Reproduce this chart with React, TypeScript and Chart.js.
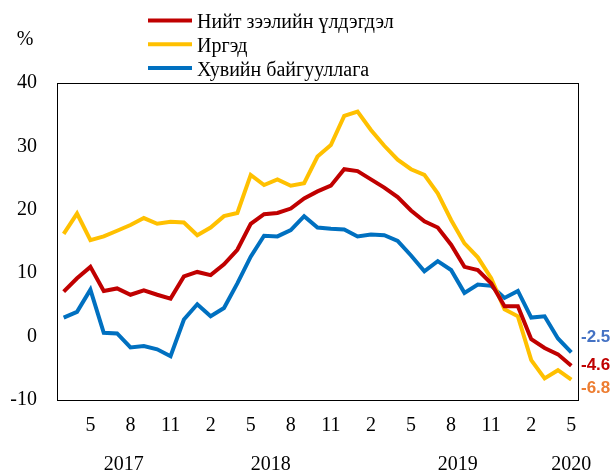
import React, { useEffect, useRef } from "react";
import { Chart, registerables } from "chart.js";

Chart.register(...registerables);

// Monthly categories: Mar 2017 – May 2020
const categories: string[] = [
  "2017-03", "2017-04", "2017-05", "2017-06", "2017-07", "2017-08", "2017-09", "2017-10", "2017-11", "2017-12",
  "2018-01", "2018-02", "2018-03", "2018-04", "2018-05", "2018-06", "2018-07", "2018-08", "2018-09", "2018-10", "2018-11", "2018-12",
  "2019-01", "2019-02", "2019-03", "2019-04", "2019-05", "2019-06", "2019-07", "2019-08", "2019-09", "2019-10", "2019-11", "2019-12",
  "2020-01", "2020-02", "2020-03", "2020-04", "2020-05",
];

const totalLoans: number[] = [
  7.1, 9.2, 11.0, 7.2, 7.6, 6.6, 7.3, 6.6, 6.0, 9.5,
  10.2, 9.7, 11.4, 13.7, 17.8, 19.3, 19.5, 20.2, 21.8, 22.9,
  23.8, 26.4, 26.1, 24.8, 23.5, 22.0, 19.9, 18.2, 17.2, 14.5,
  11.0, 10.5, 8.4, 4.8, 4.8, -0.4, -1.8, -2.8, -4.6,
];

const individuals: number[] = [
  16.2, 19.4, 15.2, 15.8, 16.7, 17.6, 18.7, 17.8, 18.1, 18.0,
  16.0, 17.2, 19.0, 19.5, 25.5, 23.9, 24.8, 23.8, 24.2, 28.4,
  30.2, 34.8, 35.5, 32.6, 30.1, 27.9, 26.4, 25.5, 22.6, 18.4,
  14.7, 12.5, 9.2, 4.3, 3.2, -3.7, -6.6, -5.3, -6.8,
];

const privateSector: number[] = [
  3.0, 3.9, 7.4, 0.6, 0.5, -1.7, -1.5, -2.0, -3.1, 2.7,
  5.1, 3.2, 4.5, 8.4, 12.6, 15.9, 15.8, 16.8, 19.0, 17.2,
  17.0, 16.9, 15.8, 16.1, 16.0, 15.1, 12.8, 10.3, 11.9, 10.5,
  6.9, 8.2, 8.0, 6.1, 7.2, 3.0, 3.2, -0.3, -2.5,
];

const seriesNames: string[] = ["Нийт зээлийн үлдэгдэл", "Иргэд", "Хувийн байгууллага"];
const yearLabels: string[] = ["2017", "2018", "2019", "2020"];
const endLabels: string[] = ["-2.5", "-4.6", "-6.8"];
const yTicks: number[] = [-10, 0, 10, 20, 30, 40];

// Layout anchors (category index for year captions; value-space anchors for end labels)
const yearAnchorIndex = [4.5, 15.5, 29.5, 38];
const endLabelAnchorValue = [-0.15, -4.5, -8.1];

const SERIF = '"Liberation Serif", "Times New Roman", serif';
const SANS = '"Liberation Sans", Arial, sans-serif';
const RED = "#C00000";
const YELLOW = "#FFC000";
const BLUE = "#0070C0";
const endLabelColors = ["#4472C4", "#C00000", "#ED7D31"];

const decorPlugin = {
  id: "decor",
  afterDraw(chart: any) {
    const { ctx, chartArea: a, scales } = chart;
    ctx.save();
    // plot frame
    ctx.strokeStyle = "#000";
    ctx.lineWidth = 1;
    ctx.strokeRect(
      Math.round(a.left) + 0.5,
      Math.round(a.top) + 0.5,
      Math.round(a.right - a.left),
      Math.round(a.bottom - a.top)
    );
    // legend
    ctx.font = `20px ${SERIF}`;
    ctx.textAlign = "left";
    ctx.textBaseline = "alphabetic";
    chart.data.datasets.forEach((ds: any, i: number) => {
      const y = 20.5 + i * 23.8;
      ctx.strokeStyle = ds.borderColor;
      ctx.lineWidth = 4;
      ctx.beginPath();
      ctx.moveTo(148, y);
      ctx.lineTo(192, y);
      ctx.stroke();
      ctx.fillStyle = "#000";
      ctx.fillText(ds.label, 197, y + 7.5);
    });
    // % unit
    ctx.textAlign = "center";
    ctx.fillText("%", 25, 45);
    // year captions
    const xs = scales.x;
    yearLabels.forEach((t, i) => {
      ctx.fillText(t, xs.getPixelForValue(yearAnchorIndex[i]), 470);
    });
    // end labels
    const ys = scales.y;
    ctx.font = `bold 17px ${SANS}`;
    ctx.textAlign = "left";
    ctx.textBaseline = "middle";
    endLabels.forEach((t, i) => {
      ctx.fillStyle = endLabelColors[i];
      ctx.fillText(t, a.right + 3, ys.getPixelForValue(endLabelAnchorValue[i]));
    });
    ctx.restore();
  },
};

export default function App() {
  const ref = useRef<HTMLCanvasElement | null>(null);

  useEffect(() => {
    if (!ref.current) return;
    const chart = new Chart(ref.current, {
      type: "line",
      data: {
        labels: categories,
        datasets: [
          { label: seriesNames[0], data: totalLoans, borderColor: RED, backgroundColor: RED },
          { label: seriesNames[1], data: individuals, borderColor: YELLOW, backgroundColor: YELLOW },
          { label: seriesNames[2], data: privateSector, borderColor: BLUE, backgroundColor: BLUE },
        ].map((d) => ({ ...d, borderWidth: 4, pointRadius: 0, tension: 0, fill: false })),
      },
      options: {
        responsive: false,
        animation: false,
        layout: { padding: { left: 0, top: 83, right: 37, bottom: 0 } },
        plugins: { legend: { display: false }, tooltip: { enabled: false }, title: { display: false } },
        scales: {
          x: {
            type: "category",
            offset: true,
            grid: { display: false, drawTicks: false },
            border: { display: false },
            ticks: {
              autoSkip: false,
              maxRotation: 0,
              padding: 14,
              color: "#000",
              font: { family: SERIF, size: 20 },
              callback: (_v: any, i: number) => ((i - 2) % 3 === 0 ? String(Number(categories[i].slice(5))) : ""),
            },
            afterFit: (s: any) => { s.height = 71; },
          },
          y: {
            min: -10,
            max: 40,
            afterBuildTicks: (s: any) => { s.ticks = yTicks.map((v) => ({ value: v })); },
            grid: { display: false, drawTicks: false },
            border: { display: false },
            ticks: { padding: 20, color: "#000", font: { family: SERIF, size: 20 } },
            afterFit: (s: any) => { s.width = 57; },
          },
        },
      },
      plugins: [decorPlugin],
    });
    return () => chart.destroy();
  }, []);

  return (
    <div style={{ position: "absolute", left: 0, top: 0, width: 615, height: 471, background: "#fff" }}>
      <canvas ref={ref} width={615} height={471} style={{ display: "block" }} />
    </div>
  );
}
